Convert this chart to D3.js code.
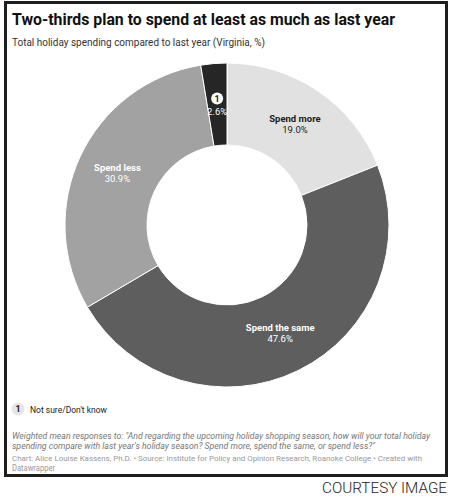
<!DOCTYPE html>
<html><head><meta charset="utf-8">
<script src="https://cdn.jsdelivr.net/npm/d3@7"></script>
<style>body{margin:0;background:#fff;}svg{display:block;font-family:Roboto,"Noto Sans",sans-serif;}</style>
</head><body>
<svg id="c" width="450" height="496"></svg>
<script>
const categories = ["Spend more", "Spend the same", "Spend less", "Not sure/Don't know"];
const values = [19.0, 47.6, 30.9, 2.6];
const colors = ["#e1e1e1", "#5e5e5e", "#a2a2a2", "#262626"];
const labelColors = ["#222", "#fff", "#fff", "#fff"];
const footnoteKeys = [null, null, null, "1"];

const svg = d3.select("#c");
svg.append("rect").attr("x", 5.5).attr("y", 2.5).attr("width", 441).attr("height", 473)
  .attr("fill", "#fff").attr("stroke", "#1e1e1e").attr("stroke-width", 3);

function txt(x, y, size, s, opts = {}) {
  const t = svg.append("text").attr("x", x).attr("y", y).attr("font-size", size)
    .attr("fill", opts.fill || "#222").text(s);
  if (opts.weight) t.attr("font-weight", opts.weight);
  if (opts.italic) t.attr("font-style", "italic");
  if (opts.len) t.attr("textLength", opts.len).attr("lengthAdjust", "spacingAndGlyphs");
  return t;
}

txt(12, 25, 16.5, "Two-thirds plan to spend at least as much as last year", {weight: 700, fill: "#111", len: 383});
txt(12, 46, 10.2, "Total holiday spending compared to last year (Virginia, %)", {fill: "#333", len: 253});

const cx = 227, cy = 225, R = 162, r = 80;
const pie = d3.pie().sort(null).value(d => d)(values);
const arc = d3.arc().innerRadius(r).outerRadius(R);
const labelArc = d3.arc().innerRadius((R + r) / 2).outerRadius((R + r) / 2);
const g = svg.append("g").attr("transform", `translate(${cx},${cy})`);
g.selectAll("path").data(pie).join("path").attr("d", arc)
  .attr("fill", (d, i) => colors[i]).attr("stroke", "#fff").attr("stroke-width", 1);

pie.forEach((d, i) => {
  const [x, y] = labelArc.centroid(d);
  if (footnoteKeys[i]) {
    g.append("circle").attr("cx", x).attr("cy", y - 6).attr("r", 6).attr("fill", "#fff");
    g.append("text").attr("x", x).attr("y", y - 2.8).attr("text-anchor", "middle")
      .attr("font-size", 9).attr("font-weight", 700).attr("fill", "#222").text(footnoteKeys[i]);
    g.append("text").attr("x", x).attr("y", y + 11).attr("text-anchor", "middle")
      .attr("font-size", 9.5).attr("fill", labelColors[i]).text(values[i].toFixed(1) + "%");
  } else {
    g.append("text").attr("x", x).attr("y", y - 3).attr("text-anchor", "middle")
      .attr("font-size", 9.5).attr("font-weight", 700).attr("fill", labelColors[i]).text(categories[i]);
    g.append("text").attr("x", x).attr("y", y + 8.5).attr("text-anchor", "middle")
      .attr("font-size", 9.5).attr("fill", labelColors[i]).text(values[i].toFixed(1) + "%");
  }
});

// legend
svg.append("circle").attr("cx", 18).attr("cy", 409).attr("r", 6.5).attr("fill", "#e6e6e6");
svg.append("text").attr("x", 18).attr("y", 412.2).attr("text-anchor", "middle").attr("font-size", 9)
  .attr("font-weight", 700).attr("fill", "#222").text("1");
txt(30, 412.5, 9.5, categories[3], {fill: "#222", len: 77});

txt(12, 439, 8.8, "Weighted mean responses to: \"And regarding the upcoming holiday shopping season, how will your total holiday", {italic: true, fill: "#777", len: 418});
txt(12, 449, 9.2, "spending compare with last year's holiday season? Spend more, spend the same, or spend less?\"", {italic: true, fill: "#777", len: 363});
txt(12, 461, 7.9, "Chart: Alice Louise Kassens, Ph.D. • Source: Institute for Policy and Opinion Research, Roanoke College • Created with", {fill: "#999", len: 410});
txt(12, 470.5, 8.3, "Datawrapper", {fill: "#999", len: 43});

txt(322, 492.5, 14, "COURTESY IMAGE", {weight: 300, fill: "#222", len: 125});
</script>
</body></html>
